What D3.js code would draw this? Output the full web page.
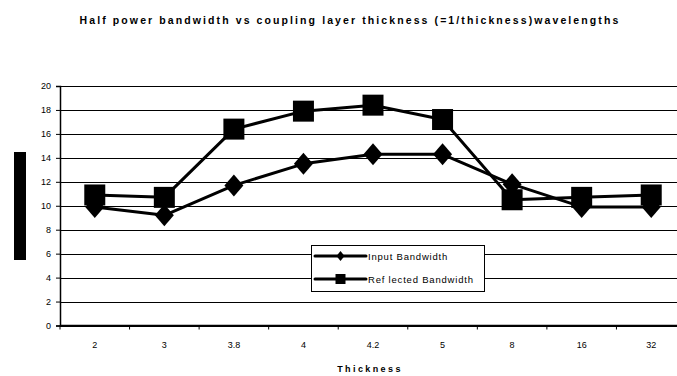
<!DOCTYPE html>
<html>
<head>
<meta charset="utf-8">
<script src="https://cdn.jsdelivr.net/npm/d3@7"></script>
<style>
  html, body { margin: 0; padding: 0; background: #fff; }
  svg { display: block; font-family: "Liberation Sans", Arial, sans-serif; }
</style>
</head>
<body>
<svg id="chart" width="677" height="376"></svg>
<script>
// Thickness categories (x axis)
const thickness = ["2", "3", "3.8", "4", "4.2", "5", "8", "16", "32"];
// Half power bandwidth series
const inputBandwidth = [9.9, 9.2, 11.7, 13.5, 14.3, 14.3, 11.8, 9.9, 9.9];
const reflectedBandwidth = [10.9, 10.7, 16.4, 17.9, 18.4, 17.2, 10.5, 10.7, 10.9];
const seriesNames = ["Input Bandwidth", "Ref lected Bandwidth"];
const yTicks = [0, 2, 4, 6, 8, 10, 12, 14, 16, 18, 20];

const svg = d3.select("#chart");
const W = 677, H = 376;
const plot = { left: 60, right: 686, top: 86, bottom: 325.5 };

const x = d3.scaleBand().domain(thickness).range([plot.left, plot.right]);
const y = d3.scaleLinear().domain([0, 20]).range([plot.bottom, plot.top]);

// Title
svg.append("text")
  .attr("x", 350).attr("y", 24)
  .attr("text-anchor", "middle")
  .attr("font-size", 10.5).attr("font-weight", "bold")
  .attr("letter-spacing", 2.1)
  .text("Half power bandwidth vs coupling layer thickness (=1/thickness)wavelengths");

// Horizontal gridlines
svg.append("g").selectAll("line").data(yTicks).join("line")
  .attr("x1", plot.left).attr("x2", W)
  .attr("y1", d => Math.round(y(d)) + 0.5).attr("y2", d => Math.round(y(d)) + 0.5)
  .attr("stroke", "#000").attr("stroke-width", 1);

// Y axis
const yAxis = svg.append("g")
  .attr("transform", `translate(${plot.left},0)`)
  .call(d3.axisLeft(y).tickValues(yTicks).tickSize(4).tickPadding(5).tickFormat(d3.format("d")));
yAxis.select(".domain").attr("stroke", "#000").attr("stroke-width", 1.5);
yAxis.selectAll("text").attr("font-size", 9).attr("fill", "#000").attr("font-family", "Liberation Sans, Arial, sans-serif");

// X axis: ticks sit at category boundaries
const bounds = thickness.map(d => x(d)).concat([plot.right]);
const xg = svg.append("g");
xg.append("line")
  .attr("x1", plot.left).attr("x2", W)
  .attr("y1", plot.bottom).attr("y2", plot.bottom)
  .attr("stroke", "#000").attr("stroke-width", 1.5);
xg.selectAll("line.tick").data(bounds).join("line")
  .attr("class", "tick")
  .attr("x1", d => d).attr("x2", d => d)
  .attr("y1", plot.bottom).attr("y2", plot.bottom + 4)
  .attr("stroke", "#000");
xg.selectAll("text").data(thickness).join("text")
  .attr("x", d => x(d) + x.bandwidth() / 2)
  .attr("y", plot.bottom + 22)
  .attr("text-anchor", "middle")
  .attr("font-size", 9)
  .text(d => d);

// X axis title
svg.append("text")
  .attr("x", 370).attr("y", 372)
  .attr("text-anchor", "middle")
  .attr("font-size", 9).attr("font-weight", "bold")
  .attr("letter-spacing", 2.4)
  .text("Thickness");

// Y axis title block
svg.append("rect")
  .attr("x", 14).attr("y", 152).attr("width", 12).attr("height", 108)
  .attr("fill", "#000");

const cx = d => x(d) + x.bandwidth() / 2;
const line = d3.line().x((d, i) => cx(thickness[i])).y(d => y(d));

const diamond = (w, h) => `M0,${-h}L${w},0L0,${h}L${-w},0Z`;
const square = (s) => `M${-s},${-s}H${s}V${s}H${-s}Z`;

function drawSeries(values, shape) {
  const g = svg.append("g");
  g.append("path").datum(values)
    .attr("d", line).attr("fill", "none")
    .attr("stroke", "#000").attr("stroke-width", 3).attr("stroke-linejoin", "round");
  g.selectAll("path.m").data(values).join("path")
    .attr("class", "m")
    .attr("transform", (d, i) => `translate(${cx(thickness[i])},${y(d)})`)
    .attr("d", shape).attr("fill", "#000");
}
drawSeries(inputBandwidth, diamond(9.5, 11));
drawSeries(reflectedBandwidth, square(10.5));

// Legend
const lg = svg.append("g");
lg.append("rect")
  .attr("x", 311.5).attr("y", 245.5).attr("width", 173).attr("height", 46)
  .attr("fill", "#fff").attr("stroke", "#000").attr("stroke-width", 1);
const entries = [{ name: seriesNames[0], shape: diamond(4, 5), y: 256 }, { name: seriesNames[1], shape: square(5), y: 279 }];
entries.forEach(e => {
  lg.append("line").attr("x1", 315).attr("x2", 366).attr("y1", e.y).attr("y2", e.y)
    .attr("stroke", "#000").attr("stroke-width", 3).attr("stroke-linecap", "round");
  lg.append("path").attr("transform", `translate(340.5,${e.y})`).attr("d", e.shape).attr("fill", "#000");
  lg.append("text").attr("x", 368).attr("y", e.y + 3.5)
    .attr("font-size", 9.5).attr("letter-spacing", 0.8).text(e.name);
});
</script>
</body>
</html>
